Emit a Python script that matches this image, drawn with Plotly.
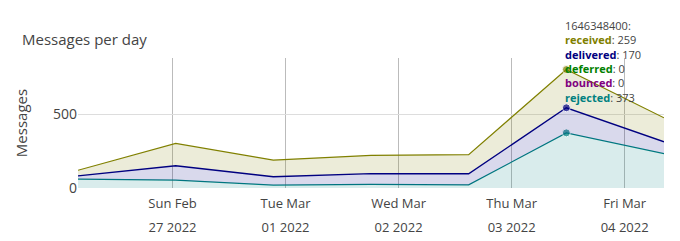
import plotly.graph_objects as go

# ---- data ----
timestamps = [1645916400, 1646002800, 1646089200, 1646175600, 1646262000, 1646348400, 1646434800]
received = [38, 151, 113, 124, 130, 259, 162]
delivered = [22, 98, 56, 73, 75, 170, 80]
deferred = [0, 0, 0, 0, 0, 0, 0]
bounced = [0, 0, 0, 0, 0, 0, 0]
rejected = [60, 53, 20, 24, 21, 373, 233]

tick_vals = [1646000000, 1646100000, 1646200000, 1646300000, 1646400000]
tick_line1 = ["Sun Feb", "Tue Mar", "Wed Mar", "Thu Mar", "Fri Mar"]
tick_line2 = ["27 2022", "01 2022", "02 2022", "03 2022", "04 2022"]

hover_index = 5
hover_title = "1646348400:"

series = [
    ("rejected", rejected, "#008080", "rgba(0,128,128,0.15)", 1.2, True),
    ("bounced", bounced, "#800080", "rgba(128,0,128,0.15)", 0, False),
    ("deferred", deferred, "#008000", "rgba(0,128,0,0.15)", 0, False),
    ("delivered", delivered, "#000080", "rgba(0,0,128,0.15)", 1.4, True),
    ("received", received, "#808000", "rgba(128,128,0,0.15)", 1.2, True),
]

fig = go.Figure()
for name, vals, color, fill, lw, mark in series:
    sizes = [8 if (mark and i == hover_index) else 0 for i in range(len(vals))]
    fig.add_trace(go.Scatter(
        x=timestamps, y=vals, name=name, stackgroup="one",
        mode="lines+markers",
        line=dict(color=color, width=lw),
        marker=dict(color=color, size=sizes),
        fillcolor=fill, hoverinfo="skip", showlegend=False,
    ))

# empty trace to host secondary x axis (second line of tick labels)
fig.add_trace(go.Scatter(x=[], y=[], xaxis="x2", showlegend=False, hoverinfo="skip"))

xr = [timestamps[0], timestamps[-1]]
fig.update_layout(
    width=680, height=241,
    margin=dict(l=78, r=16, t=58, b=53, autoexpand=False),
    paper_bgcolor="white", plot_bgcolor="white",
    font=dict(family="Open Sans, sans-serif", color="#444", size=13),
    title=dict(text="Messages per day", x=22/680, xanchor="left", xref="container",
               y=1 - 40/241, yanchor="middle", yref="container",
               font=dict(size=15, color="#444"), automargin=False),
    xaxis=dict(type="linear", range=xr, tickmode="array", tickvals=tick_vals,
               ticktext=tick_line1, showgrid=True, gridcolor="#bbbbbb", gridwidth=1,
               zeroline=False, showline=False, ticks="", tickfont=dict(size=13),
               ticklabelstandoff=6, automargin=False),
    xaxis2=dict(type="linear", range=xr, overlaying="x", side="bottom", anchor="y",
                tickmode="array", tickvals=tick_vals, ticktext=tick_line2,
                showgrid=False, zeroline=False, showline=False, ticks="",
                ticklabelstandoff=30, tickfont=dict(size=13), automargin=False),
    yaxis=dict(range=[0, 880], dtick=500, showgrid=True, gridcolor="#dddddd",
               zeroline=False, showline=False, ticks="", tickfont=dict(size=14),
               automargin=False,
               title=dict(text="Messages", font=dict(size=15), standoff=21)),
    hovermode=False,
)

# hover-style label
lines = [hover_title]
for name, vals, color, fill, lw, mark in reversed(series):
    lines.append(f"<b><span style='color:{color}'>{name}</span></b>: {vals[hover_index]}")
plot_top, plot_h = 58, 130
block_center_px = 61.5
fig.add_annotation(
    x=timestamps[hover_index], xref="x", xanchor="left", xshift=-1, align="left",
    y=(plot_top + plot_h - block_center_px) / plot_h, yref="paper", yanchor="middle",
    text="<br>".join(lines), showarrow=False, font=dict(size=11, color="#444"),
    borderpad=0, borderwidth=0,
)

fig.write_html("out.html")
